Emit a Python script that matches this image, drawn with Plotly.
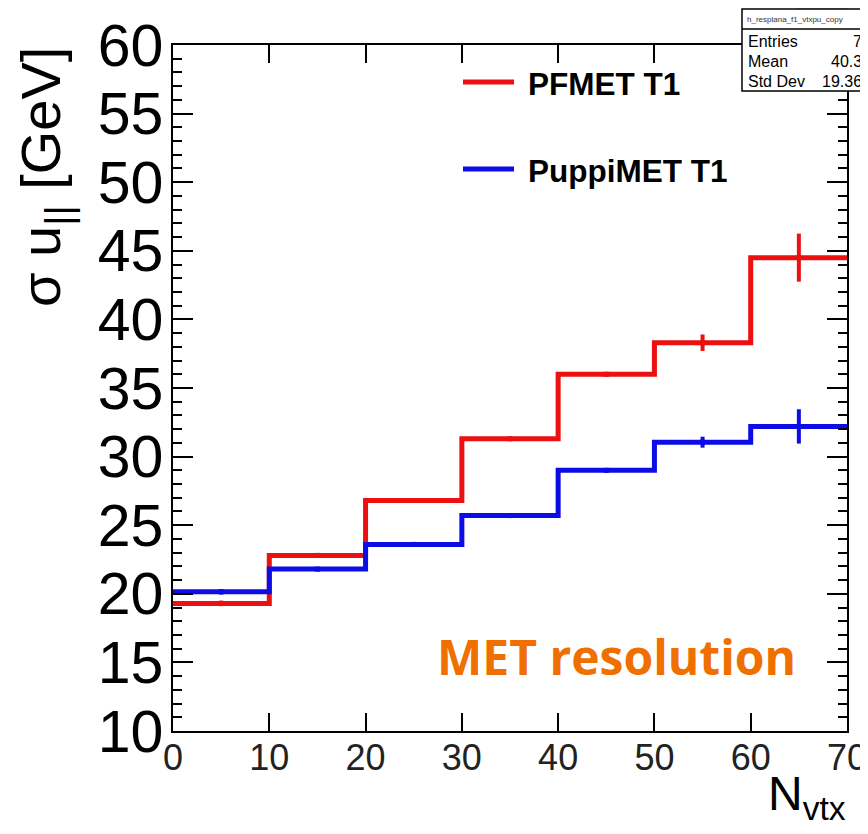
import plotly.graph_objects as go

# ---- data ----
bin_edges = [0, 10, 20, 30, 40, 50, 60, 70]
bin_centers = [5, 15, 25, 35, 45, 55, 65]
pfmet_vals = [19.3, 22.8, 26.8, 31.3, 36.0, 38.3, 44.5]
pfmet_errs = [0.2, 0.15, 0.15, 0.15, 0.15, 0.6, 1.75]
puppi_vals = [20.15, 21.8, 23.6, 25.7, 29.0, 31.05, 32.2]
puppi_errs = [0.2, 0.15, 0.15, 0.15, 0.15, 0.4, 1.25]
series_names = ["PFMET T1", "PuppiMET T1"]
x_ticks = [0, 10, 20, 30, 40, 50, 60, 70]
y_ticks = [10, 15, 20, 25, 30, 35, 40, 45, 50, 55, 60]
stats_labels = ["Entries", "Mean", "Std Dev"]
stats_values = ["7", "40.3", "19.36"]
stats_title = "h_resplana_f1_vtxpu_copy"

RED = "#ec1010"
BLUE = "#0c0ce6"
FONT = "Liberation Sans, Arial, Helvetica, sans-serif"

# page body has an 8px margin: work in screen pixels and convert
OFF = 8
W, H = 860, 826
# plot area in screen pixels
SX0, SX1, SY0, SY1 = 173, 847, 45, 731
L, R, T, B = SX0 - OFF, W - (SX1 - OFF), SY0 - OFF, H - (SY1 - OFF)
PW, PH = W - L - R, H - T - B


def px(sx):
    return (sx - SX0) / PW


def py(sy):
    return (SY1 - sy) / PH


fig = go.Figure()

for vals, errs, col, name in [(pfmet_vals, pfmet_errs, RED, series_names[0]),
                              (puppi_vals, puppi_errs, BLUE, series_names[1])]:
    fig.add_trace(go.Scatter(
        x=bin_edges, y=vals + [vals[-1]], mode="lines", line_shape="hv",
        line=dict(color=col, width=5), showlegend=False, name=name,
        hoverinfo="skip"))
    fig.add_trace(go.Scatter(
        x=bin_centers, y=vals, mode="markers",
        marker=dict(color=col, size=5, symbol="square"),
        error_y=dict(type="data", array=errs, visible=True, color=col,
                     thickness=4, width=0),
        showlegend=False, name=name))

fig.update_layout(
    width=W, height=H,
    margin=dict(l=L, r=R, t=T, b=B, autoexpand=False),
    paper_bgcolor="white", plot_bgcolor="white",
    font=dict(family=FONT, color="black"),
    xaxis=dict(
        range=[0, 70], tickvals=x_ticks, ticks="inside", ticklen=18,
        tickwidth=1.5, tickcolor="black", showline=True, linecolor="black",
        linewidth=1.5, mirror="allticks", showgrid=False, zeroline=False,
        tickfont=dict(size=36, color="#222", family=FONT), automargin=False,
        ticklabelstandoff=-6,
    ),
    yaxis=dict(
        range=[10, 60], tickvals=y_ticks, ticks="inside", ticklen=20,
        tickwidth=1.5, tickcolor="black", showline=True, linecolor="black",
        linewidth=1.5, mirror="allticks", showgrid=False, zeroline=False,
        tickfont=dict(size=59, color="black", family=FONT),
        ticklabelstandoff=-4, automargin=False,
        minor=dict(dtick=1, ticks="inside", ticklen=9, tickwidth=1.5,
                   tickcolor="black", showgrid=False),
    ),
)

annotations = []
shapes = []

# legend
for name, col, yl in [(series_names[0], RED, 82), (series_names[1], BLUE, 169)]:
    shapes.append(dict(type="line", xref="paper", yref="paper",
                       x0=px(463), x1=px(514), y0=py(yl), y1=py(yl),
                       line=dict(color=col, width=5)))
    annotations.append(dict(text="<b>%s</b>" % name, xref="paper", yref="paper",
                            x=px(526), y=py(yl + 2), xanchor="left", yanchor="middle",
                            showarrow=False, font=dict(size=31.5, family=FONT, color="black")))

# y-axis title
annotations.append(dict(text="σ u<sub>||</sub> [GeV]", xref="paper", yref="paper",
                        x=px(44), y=py(45), xanchor="center", yanchor="top",
                        textangle=-90, showarrow=False,
                        font=dict(size=56, family=FONT, color="black")))
# x-axis title
annotations.append(dict(text="N<sub>vtx</sub>", xref="paper", yref="paper",
                        x=px(848), y=py(765), xanchor="right", yanchor="top",
                        showarrow=False, font=dict(size=48, family=FONT, color="black")))
# MET resolution
annotations.append(dict(text="<b>MET resolution</b>", xref="paper", yref="paper",
                        x=px(616), y=py(656), xanchor="center", yanchor="middle",
                        showarrow=False,
                        font=dict(size=48, family="Open Sans, sans-serif", color="#ef6f00")))

# stats box
bx0, bx1, by0, bdiv, by1 = 742, 867, 9, 29, 91
shapes.append(dict(type="rect", xref="paper", yref="paper",
                   x0=px(bx0), x1=px(bx1), y0=py(by1), y1=py(by0),
                   line=dict(color="black", width=1.5), fillcolor="white"))
shapes.append(dict(type="line", xref="paper", yref="paper",
                   x0=px(bx0), x1=px(bx1), y0=py(bdiv), y1=py(bdiv),
                   line=dict(color="black", width=1.5)))
shapes.append(dict(type="rect", xref="paper", yref="paper",
                   x0=px(797), x1=px(848), y0=py(3), y1=py(OFF),
                   line=dict(color="#222", width=1), fillcolor="#5a8a3a"))
annotations.append(dict(text=stats_title, xref="paper", yref="paper",
                        x=px(745), y=py(19), xanchor="left", yanchor="middle",
                        showarrow=False, font=dict(size=8, family=FONT, color="#333")))
for i, (lab, val) in enumerate(zip(stats_labels, stats_values)):
    yy = 41 + i * 20
    annotations.append(dict(text=lab, xref="paper", yref="paper",
                            x=px(746), y=py(yy), xanchor="left", yanchor="middle",
                            showarrow=False, font=dict(size=16, family=FONT, color="black")))
    annotations.append(dict(text=val, xref="paper", yref="paper",
                            x=px(864), y=py(yy), xanchor="right", yanchor="middle",
                            showarrow=False, font=dict(size=16, family=FONT, color="black")))

fig.update_layout(annotations=annotations, shapes=shapes)

fig.write_html("out.html")
